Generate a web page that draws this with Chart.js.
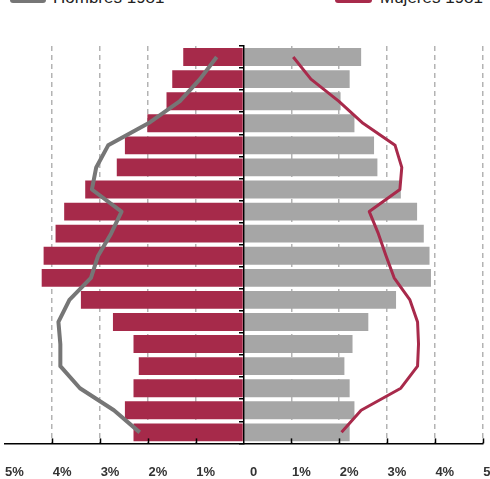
<!DOCTYPE html>
<html>
<head>
<meta charset="utf-8">
<style>
  html, body { margin: 0; padding: 0; background: #fff; overflow: hidden; }
  #marco { position: relative; width: 490px; height: 479px; overflow: hidden; }
  #Grafica { position: absolute; left: -26px; top: 0; }
  .caja { position: absolute; top: -8px; height: 11px; border-radius: 3px; }
  .texto { position: absolute; top: -12px; font: 17px Arial, "Liberation Sans", sans-serif; line-height: 20px; color: #222; white-space: nowrap; }
</style>
</head>
<body>
<div id="marco">
  <span class="caja" style="left:10px; width:36px; background:#767676"></span>
  <span class="texto" style="left:53px">Hombres 1981</span>
  <span class="caja" style="left:335px; width:37px; background:#A82A4B"></span>
  <span class="texto" style="left:380px">Mujeres 1981</span>
  <canvas id="Grafica" width="539" height="501"></canvas>
</div>
<script src="https://cdn.jsdelivr.net/npm/chart.js"></script>
<script>
// grupos de edad, de mayor (arriba) a menor (abajo)
const edades = ["85+", "80-84", "75-79", "70-74", "65-69", "60-64", "55-59", "50-54", "45-49",
                "40-44", "35-39", "30-34", "25-29", "20-24", "15-19", "10-14", "5-9", "0-4"];

// % de la población (barras actuales)
const hombres = [1.26, 1.49, 1.61, 2.01, 2.48, 2.65, 3.31, 3.75, 3.93,
                 4.18, 4.22, 3.40, 2.73, 2.30, 2.19, 2.30, 2.48, 2.30];
const mujeres = [2.46, 2.22, 2.03, 2.32, 2.73, 2.80, 3.29, 3.63, 3.77,
                 3.89, 3.92, 3.19, 2.61, 2.28, 2.11, 2.22, 2.32, 2.22];

// % de la población en 1981 (líneas)
const hombres1981 = [0.56, 0.91, 1.33, 1.99, 2.83, 3.08, 3.17, 2.55, 2.77,
                     3.04, 3.19, 3.64, 3.87, 3.83, 3.83, 3.42, 2.71, 2.17];
const mujeres1981 = [1.04, 1.41, 1.99, 2.50, 3.17, 3.31, 3.27, 2.63, 2.82,
                     2.98, 3.15, 3.48, 3.64, 3.66, 3.64, 3.29, 2.46, 2.05];

const etiquetasX = ["5%", "4%", "3%", "2%", "1%", "0", "1%", "2%", "3%", "4%", "5%"];

// marcas cortas hacia dentro sobre el eje X
const marcasEjeX = {
  id: 'marcasEjeX',
  afterDatasetsDraw(chart) {
    const ctx = chart.ctx, x = chart.scales.x, y0 = chart.chartArea.bottom;
    ctx.save();
    ctx.strokeStyle = '#000';
    ctx.lineWidth = 1.5;
    for (let v = -4; v <= 5; v++) {
      if (v === 0) continue;
      const px = Math.round(x.getPixelForValue(v)) + 0.5;
      ctx.beginPath();
      ctx.moveTo(px, y0);
      ctx.lineTo(px, y0 - 5);
      ctx.stroke();
    }
    ctx.restore();
  }
};

new Chart(document.getElementById("Grafica"), {
  type: "bar",
  data: {
    labels: edades,
    datasets: [
      {
        type: "line",
        label: "Hombres 1981",
        data: hombres1981.map(v => -v),
        borderColor: '#767676',
        borderWidth: 4,
        pointRadius: 0,
        tension: 0,
        borderJoinStyle: 'round',
        order: 0
      },
      {
        type: "line",
        label: "Mujeres 1981",
        data: mujeres1981,
        borderColor: '#A82A4B',
        borderWidth: 3,
        pointRadius: 0,
        tension: 0,
        borderJoinStyle: 'round',
        order: 0
      },
      {
        label: "Hombres",
        data: hombres.map(v => -v),
        backgroundColor: '#A62A4A',
        grouped: false,
        barPercentage: 0.81,
        categoryPercentage: 1,
        order: 1
      },
      {
        label: "Mujeres",
        data: mujeres,
        backgroundColor: '#A6A6A6',
        grouped: false,
        barPercentage: 0.81,
        categoryPercentage: 1,
        order: 1
      }
    ]
  },
  options: {
    indexAxis: 'y',
    responsive: false,
    animation: false,
    layout: { padding: { top: 46, left: 20, right: 20, bottom: 0 } },
    plugins: {
      legend: { display: false },
      tooltip: { enabled: false }
    },
    scales: {
      x: {
        type: 'linear',
        min: -5,
        max: 5,
        ticks: {
          stepSize: 1,
          padding: 21,
          labelOffset: 10,
          color: '#333',
          font: { family: 'Arial, "Liberation Sans", sans-serif', size: 13, weight: 'bold' },
          callback: (v, i) => etiquetasX[i]
        },
        grid: {
          drawTicks: false,
          lineWidth: 1.5,
          color: c => (c.tick && (c.tick.value === 0 || c.tick.value === -5)) ? 'rgba(0,0,0,0)' : '#B3B3B3'
        },
        border: { display: true, color: '#000', width: 1.5, dash: [5, 4], z: 1 }
      },
      y: {
        type: 'category',
        position: { x: 0 },
        offset: true,
        ticks: { display: false },
        grid: {
          offset: true,
          drawOnChartArea: false,
          drawTicks: true,
          tickLength: 4,
          color: '#000',
          lineWidth: 1.5,
          z: 1
        },
        border: { display: true, color: '#000', width: 1.5, z: 1 }
      }
    }
  },
  plugins: [marcasEjeX]
});
</script>
</body>
</html>
